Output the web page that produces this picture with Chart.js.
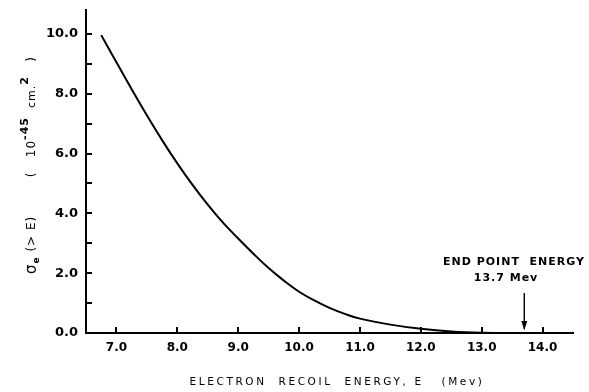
<!DOCTYPE html>
<html>
<head>
<meta charset="utf-8">
<script src="https://cdn.jsdelivr.net/npm/chart.js@4.4.0/dist/chart.umd.min.js"></script>
<style>
  html, body { margin: 0; padding: 0; background: #fff; }
  #wrap { width: 589px; height: 392px; }
</style>
</head>
<body>
<div id="wrap"><canvas id="myChart" width="589" height="392"></canvas></div>
<script>
// energia (Mev) e secao de choque
const energy = [6.75, 7.0, 7.25, 7.5, 7.75, 8.0, 8.25, 8.5, 8.75, 9.0, 9.25, 9.5, 9.75, 10.0, 10.25, 10.5, 10.75, 11.0, 11.5, 12.0, 12.5, 13.0, 13.7];
const sigma = [9.96, 9.05, 8.15, 7.28, 6.45, 5.67, 4.95, 4.29, 3.69, 3.16, 2.65, 2.17, 1.75, 1.38, 1.09, 0.84, 0.64, 0.48, 0.28, 0.14, 0.05, 0.01, 0.0];
const xTicks = [7, 8, 9, 10, 11, 12, 13, 14];
const yTicks = [0, 1, 2, 3, 4, 5, 6, 7, 8, 9, 10];
const yLabels = [0, 2, 4, 6, 8, 10];
const endPoint = 13.7;

const FONT = '"DejaVu Sans", sans-serif';

// marcas internas, titulos e seta
const extras = {
    id: 'extras',
    afterDraw(chart) {
        const ctx = chart.ctx;
        const area = chart.chartArea;
        const xs = chart.scales.x;
        const ys = chart.scales.y;
        ctx.save();
        ctx.strokeStyle = '#000';
        ctx.lineWidth = 2;
        yTicks.forEach(function (v) {
            const py = Math.round(ys.getPixelForValue(v));
            ctx.beginPath();
            ctx.moveTo(area.left, py);
            ctx.lineTo(area.left + 6, py);
            ctx.stroke();
        });
        xTicks.forEach(function (v) {
            const px = Math.round(xs.getPixelForValue(v));
            ctx.beginPath();
            ctx.moveTo(px, area.bottom);
            ctx.lineTo(px, area.bottom - 6);
            ctx.stroke();
        });

        // seta do ponto final
        const ax = xs.getPixelForValue(endPoint);
        ctx.lineWidth = 1.4;
        ctx.beginPath();
        ctx.moveTo(ax, 293);
        ctx.lineTo(ax, area.bottom - 4);
        ctx.stroke();
        ctx.fillStyle = '#000';
        ctx.beginPath();
        ctx.moveTo(ax - 3, area.bottom - 12);
        ctx.lineTo(ax + 3, area.bottom - 12);
        ctx.lineTo(ax, area.bottom - 3);
        ctx.closePath();
        ctx.fill();

        ctx.textBaseline = 'middle';
        ctx.font = 'bold 11px ' + FONT;
        ctx.letterSpacing = '1px';
        ctx.textAlign = 'center';
        ctx.fillText('END POINT  ENERGY', 514, 262);
        ctx.fillText('13.7 Mev', 506, 278);

        // titulo do eixo x
        ctx.font = '10.5px ' + FONT;
        ctx.letterSpacing = '2.6px';
        ctx.fillText('ELECTRON  RECOIL  ENERGY, E   (Mev)', 337, 382);

        // titulo do eixo y (rotacionado)
        ctx.translate(32, 165);
        ctx.rotate(-Math.PI / 2);
        ctx.textAlign = 'left';
        ctx.letterSpacing = '1px';
        const parts = [
            ['σ', '15px', 0],
            ['e', 'bold 9px', 5],
            [' (> E)', '12px', 0],
            ['        (   10', '12px', 0],
            ['-45', 'bold 11px', -7],
            ['  cm.', '11px', 0],
            ['2', 'bold 11px', -7],
            ['   )', '12px', 0]
        ];
        let total = 0;
        parts.forEach(function (p) {
            ctx.font = p[1] + ' ' + FONT;
            total += ctx.measureText(p[0]).width;
        });
        let cx = -total / 2;
        parts.forEach(function (p) {
            ctx.font = p[1] + ' ' + FONT;
            ctx.fillText(p[0], cx, p[2]);
            cx += ctx.measureText(p[0]).width;
        });
        ctx.restore();
    }
};

const canvas = document.getElementById('myChart').getContext('2d');
const myChart = new Chart(canvas, {
    type: 'line',
    data: {
        datasets: [{
            data: energy.map(function (e, i) { return { x: e, y: sigma[i] }; }),
            borderColor: '#000',
            borderWidth: 2,
            pointRadius: 0,
            fill: false,
            tension: 0.4
        }]
    },
    options: {
        responsive: false,
        animation: false,
        layout: { padding: { top: 10, right: 16, left: 0, bottom: 0 } },
        plugins: {
            legend: { display: false },
            tooltip: { enabled: false }
        },
        scales: {
            x: {
                type: 'linear',
                min: 6.5,
                max: 14.5,
                afterBuildTicks: function (scale) {
                    scale.ticks = xTicks.map(function (v) { return { value: v }; });
                },
                afterFit: function (scale) { scale.height = 59; scale.paddingRight = 0; },
                grid: { drawOnChartArea: false, drawTicks: false, color: 'rgba(0,0,0,0)' },
                border: { color: '#000', width: 2 },
                ticks: {
                    color: '#000',
                    padding: 8,
                    font: { family: FONT, size: 12, weight: 'bold' },
                    maxRotation: 0,
                    callback: function (v) { return v.toFixed(1); }
                }
            },
            y: {
                type: 'linear',
                min: 0,
                max: 10.8,
                afterBuildTicks: function (scale) {
                    scale.ticks = yTicks.map(function (v) { return { value: v }; });
                },
                afterFit: function (scale) { scale.width = 86; scale.paddingTop = 0; scale.paddingBottom = 0; },
                grid: { drawOnChartArea: false, drawTicks: false, color: 'rgba(0,0,0,0)' },
                border: { color: '#000', width: 2 },
                ticks: {
                    color: '#000',
                    padding: 8,
                    font: { family: FONT, size: 13, weight: 'bold' },
                    callback: function (v) { return yLabels.indexOf(v) >= 0 ? v.toFixed(1) : ''; }
                }
            }
        }
    },
    plugins: [extras]
});
</script>
</body>
</html>
